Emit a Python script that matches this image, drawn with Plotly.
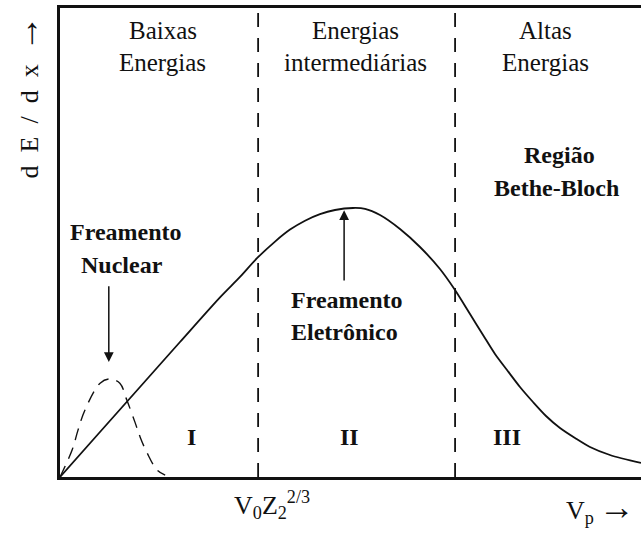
import plotly.graph_objects as go

# Stopping power curve dE/dx versus projectile velocity (arbitrary units, 0-10)
vp_total = [0.0, 0.688, 1.377, 2.065, 2.754, 3.098, 3.391, 3.701, 3.959,
            4.217, 4.475, 4.733, 5.043, 5.250, 5.508, 5.852, 6.196, 6.540,
            6.799, 7.057, 7.281, 7.487, 7.694, 7.917, 8.141, 8.365, 8.606,
            8.864, 9.122, 9.466, 10.0]
dedx_total = [0.0, 0.959, 1.919, 2.878, 3.830, 4.265, 4.665, 5.020, 5.275,
              5.465, 5.605, 5.693, 5.736, 5.719, 5.586, 5.288, 4.904, 4.435,
              3.987, 3.475, 3.028, 2.623, 2.281, 1.919, 1.599, 1.301, 1.045,
              0.832, 0.640, 0.469, 0.299]

# Nuclear stopping contribution (low-velocity bump)
vp_nuc = [0.0, 0.21, 0.31, 0.43, 0.69, 0.86, 1.03, 1.15, 1.29, 1.38,
          1.50, 1.67, 1.81]
dedx_nuc = [0.0, 0.58, 1.00, 1.43, 2.00, 2.09, 2.00, 1.64, 1.17, 0.85,
            0.51, 0.15, 0.04]

# Region boundaries
boundaries = [3.41, 6.80]
region_numerals = ["I", "II", "III"]
region_numeral_x = [2.27, 4.99, 7.69]
region_titles = [("Baixas", "Energias"), ("Energias", "intermediárias"),
                 ("Altas", "Energias")]
region_title_x = [1.77, 5.08, 8.35]

SERIF = "Liberation Serif"
BLACK = "#111111"
ARROW = '<span style="font-size:36px">\u2192</span>'

fig = go.Figure()

fig.add_trace(go.Scatter(x=vp_total, y=dedx_total, mode="lines",
                         line=dict(color=BLACK, width=1.8, shape="spline",
                                   smoothing=0.8),
                         hoverinfo="skip"))
fig.add_trace(go.Scatter(x=vp_nuc, y=dedx_nuc, mode="lines",
                         line=dict(color=BLACK, width=1.4, shape="spline",
                                   smoothing=1.0, dash="12px,8px"),
                         hoverinfo="skip"))
for b in boundaries:
    fig.add_trace(go.Scatter(x=[b, b], y=[0, 10], mode="lines",
                             line=dict(color=BLACK, width=1.8, dash="14px,11px"),
                             hoverinfo="skip"))

ann = []
reg = dict(family=SERIF, size=25, color=BLACK)
bold = dict(family=SERIF, size=24, color=BLACK, weight="bold")

for (l1, l2), x in zip(region_titles, region_title_x):
    ann.append(dict(x=x, y=9.53, text=l1, font=reg))
    ann.append(dict(x=x, y=8.83, text=l2, font=reg))

for t, x in zip(region_numerals, region_numeral_x):
    ann.append(dict(x=x, y=0.85, text=t, font=bold))

ann += [
    dict(x=8.60, y=6.87, text="Região", font=bold),
    dict(x=8.55, y=6.16, text="Bethe-Bloch", font=bold),
    dict(x=1.13, y=5.23, text="Freamento", font=bold),
    dict(x=1.07, y=4.52, text="Nuclear", font=bold),
    dict(x=4.94, y=3.77, text="Freamento", font=bold),
    dict(x=4.89, y=3.09, text="Eletrônico", font=bold),
    # arrows
    dict(x=0.84, y=2.45, ax=0.84, ay=4.10, axref="x", ayref="y", text="",
         showarrow=True, arrowhead=2, arrowsize=1.3, arrowwidth=1.5,
         arrowcolor=BLACK),
    dict(x=4.89, y=5.69, ax=4.89, ay=4.16, axref="x", ayref="y", text="",
         showarrow=True, arrowhead=2, arrowsize=1.3, arrowwidth=1.5,
         arrowcolor=BLACK),
]
for a in ann:
    a.setdefault("xref", "x")
    a.setdefault("yref", "y")
    a.setdefault("showarrow", False)
    a.setdefault("xanchor", "center")
    a.setdefault("yanchor", "middle")

# Axis labels outside the plotting area
ann += [
    dict(xref="paper", yref="paper", x=-0.058, y=0.81, textangle=-90,
         xanchor="center", yanchor="middle",
         text="d\u2002E\u2002/\u2002d\u2002x\u2002" + ARROW, showarrow=False,
         font=dict(family=SERIF, size=26, color=BLACK)),
    dict(xref="paper", yref="paper", x=0.365, y=-0.018, yanchor="top",
         xanchor="center",
         text="V<sub>0</sub>Z<sub>2</sub><sup>2/3</sup>", showarrow=False,
         font=dict(family=SERIF, size=26, color=BLACK)),
    dict(xref="paper", yref="paper", x=0.93, y=-0.018, yanchor="top",
         xanchor="center",
         text="V<sub>p</sub>\u2009" + ARROW, showarrow=False,
         font=dict(family=SERIF, size=26, color=BLACK)),
]

fig.update_layout(
    width=641, height=533,
    margin=dict(l=60, r=0, t=8, b=56),
    paper_bgcolor="white", plot_bgcolor="white",
    showlegend=False,
    annotations=ann,
    xaxis=dict(range=[0, 10], showgrid=False, zeroline=False,
               showticklabels=False, ticks="", showline=True,
               linecolor=BLACK, linewidth=3, mirror=True),
    yaxis=dict(range=[0, 10], showgrid=False, zeroline=False,
               showticklabels=False, ticks="", showline=True,
               linecolor=BLACK, linewidth=3),
)

fig.write_html("out.html")
